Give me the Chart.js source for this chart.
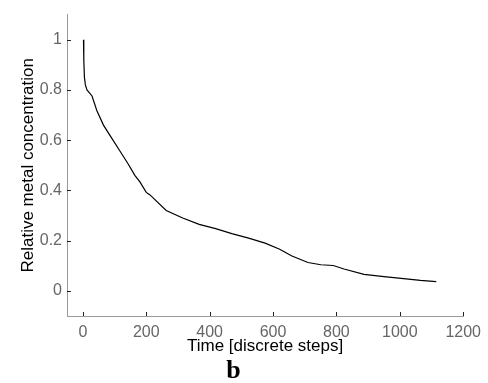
<!DOCTYPE html>
<html>
<head>
<meta charset="utf-8">
<script src="https://cdn.jsdelivr.net/npm/chart.js@4.4.1/dist/chart.umd.min.js"></script>
<style>
    html, body { margin: 0; padding: 0; background: #fff; }
    #wrap { width: 488px; height: 383px; }
</style>
</head>
<body>
<div id="wrap"><canvas id="metalChart"></canvas></div>
<script>
// ----------- data
var timeSteps = [2, 3, 5, 8, 13, 29, 44, 65, 91, 117, 143, 164, 180, 200, 211, 263, 315, 367, 419, 470, 523, 575, 621, 658, 710, 751, 790, 824, 887, 950, 1012, 1065, 1115];
var concentration = [1.0, 0.92, 0.85, 0.82, 0.80, 0.776, 0.718, 0.66, 0.608, 0.557, 0.505, 0.46, 0.434, 0.392, 0.383, 0.32, 0.29, 0.265, 0.248, 0.228, 0.21, 0.19, 0.166, 0.14, 0.113, 0.104, 0.101, 0.087, 0.066, 0.057, 0.049, 0.042, 0.037];
var xTicks = [0, 200, 400, 600, 800, 1000, 1200];
var yTicks = [0, 0.2, 0.4, 0.6, 0.8, 1];

var points = timeSteps.map(function (t, i) { return { x: t, y: concentration[i] }; });

// draws short tick marks pointing into the plot, like matlab does
var inwardTicks = {
    id: 'inwardTicks',
    afterDatasetsDraw: function (chart) {
        var ctx = chart.ctx;
        var xs = chart.scales.x, ys = chart.scales.y;
        var area = chart.chartArea;
        ctx.save();
        ctx.strokeStyle = '#222';
        ctx.lineWidth = 1;
        ctx.beginPath();
        xTicks.forEach(function (v) {
            var px = Math.round(xs.getPixelForValue(v)) + 0.5;
            ctx.moveTo(px, area.bottom);
            ctx.lineTo(px, area.bottom - 4);
        });
        yTicks.forEach(function (v) {
            var py = Math.round(ys.getPixelForValue(v)) + 0.5;
            ctx.moveTo(area.left, py);
            ctx.lineTo(area.left + 4, py);
        });
        ctx.stroke();
        ctx.restore();
    }
};

var tickFont = { family: 'Liberation Sans, Arial, sans-serif', size: 16 };
// plain numbers, no thousands separator, no trailing .0
var plainLabel = function (value) { return String(Math.round(value * 10) / 10); };

var metalChart = new Chart(document.getElementById('metalChart').getContext('2d'), {
    type: 'line',
    data: {
        datasets: [{
            label: 'Relative metal concentration',
            data: points,
            borderColor: '#000',
            borderWidth: 1.2,
            pointRadius: 0,
            tension: 0,
            fill: false
        }]
    },
    options: {
        responsive: true,
        maintainAspectRatio: false,
        animation: false,
        layout: { padding: { top: 9, right: 21, left: 0, bottom: 0 } },
        plugins: {
            legend: { display: false },
            tooltip: { enabled: false },
            title: {
                display: true,
                position: 'bottom',
                text: 'b',
                color: '#000',
                font: { family: 'Liberation Serif, Times New Roman, serif', size: 26, weight: 'bold', lineHeight: 0.9 },
                padding: { top: 0, bottom: 0 }
            }
        },
        scales: {
            x: {
                type: 'linear',
                min: -50,
                max: 1200,
                afterBuildTicks: function (scale) {
                    scale.ticks = xTicks.map(function (v) { return { value: v }; });
                },
                afterFit: function (scale) { scale.height = 43.6; },
                grid: { display: true, drawOnChartArea: false, drawTicks: false },
                border: { display: true, color: '#999', width: 1 },
                ticks: { color: '#666', font: tickFont, padding: 7, maxRotation: 0, callback: plainLabel },
                title: {
                    display: true,
                    text: 'Time [discrete steps]',
                    color: '#000',
                    font: { family: 'Liberation Sans, Arial, sans-serif', size: 17 },
                    padding: { top: 0, bottom: 3 }
                }
            },
            y: {
                type: 'linear',
                min: -0.1,
                max: 1.1,
                afterBuildTicks: function (scale) {
                    scale.ticks = yTicks.map(function (v) { return { value: v }; });
                },
                afterFit: function (scale) { scale.width = 67; },
                grid: { display: true, drawOnChartArea: false, drawTicks: false },
                border: { display: true, color: '#999', width: 1 },
                ticks: { color: '#666', font: tickFont, padding: 5, callback: plainLabel },
                title: {
                    display: true,
                    text: 'Relative metal concentration',
                    color: '#000',
                    font: { family: 'Liberation Sans, Arial, sans-serif', size: 17 },
                    padding: { top: 18, bottom: 0 }
                }
            }
        }
    },
    plugins: [inwardTicks]
});
</script>
</body>
</html>
